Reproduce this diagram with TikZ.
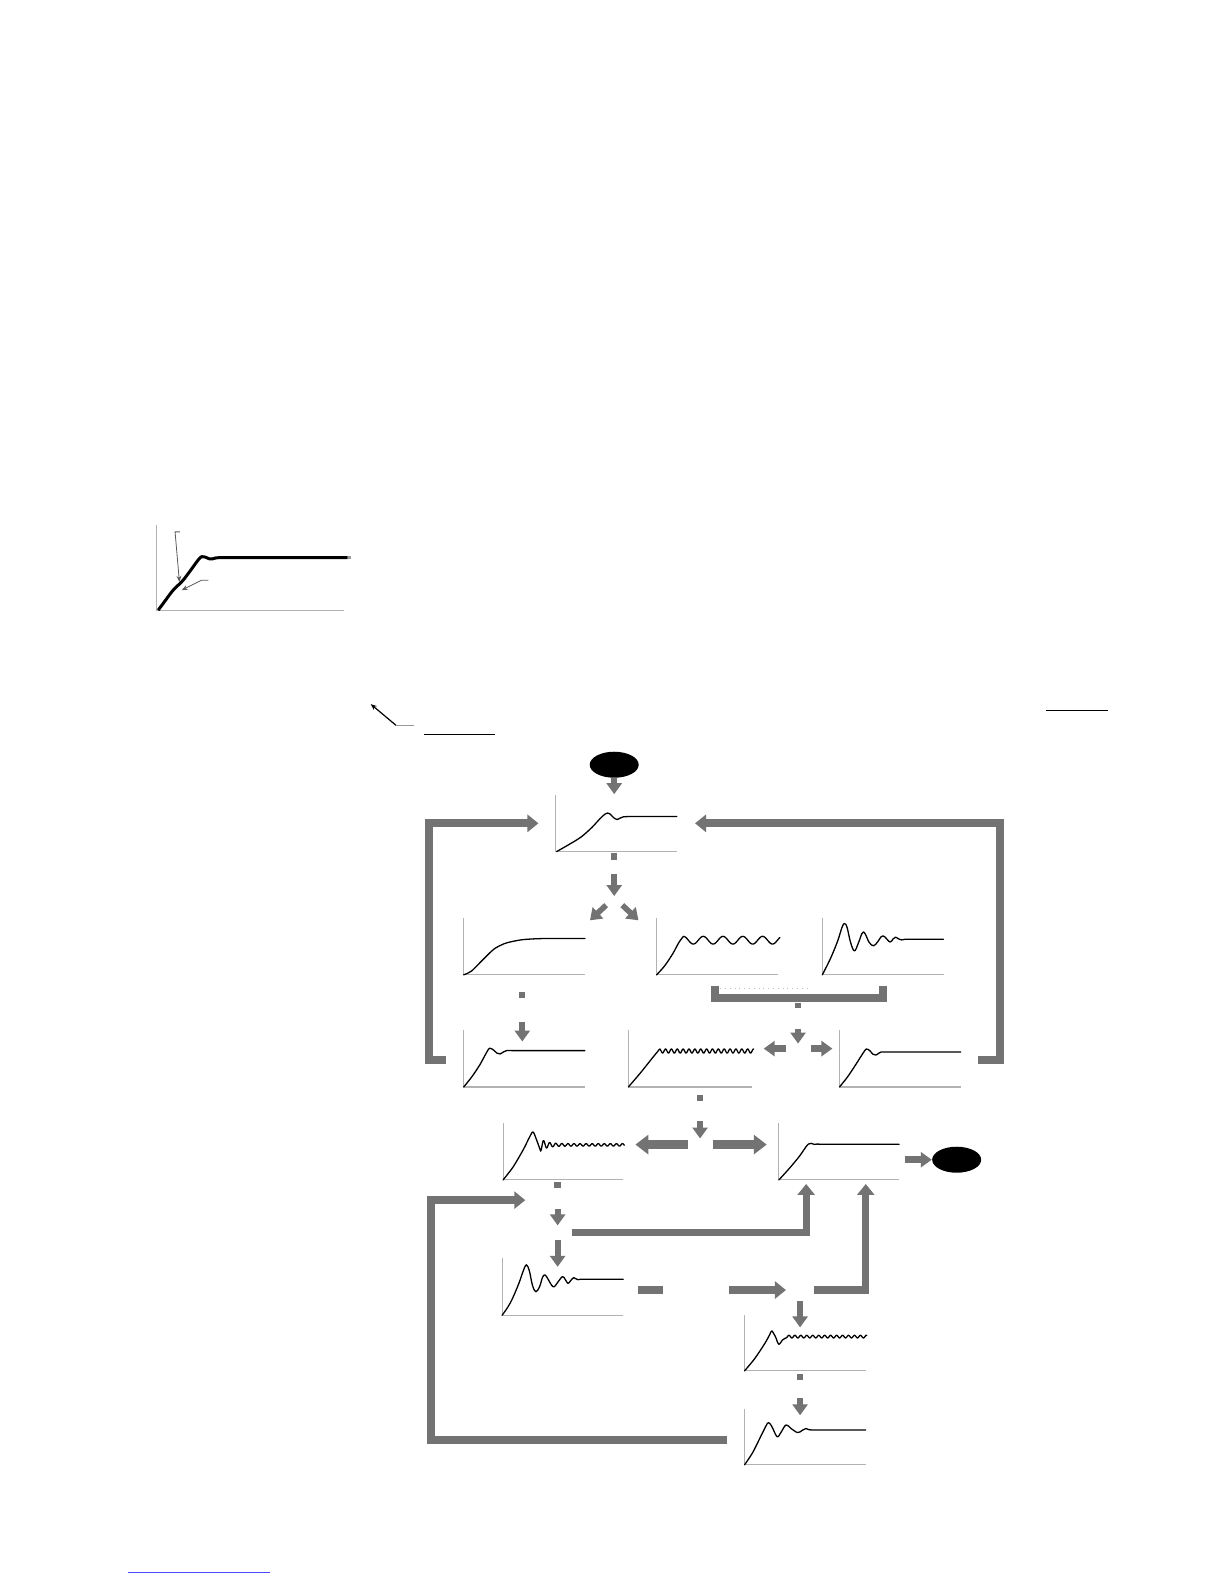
\documentclass[tikz,border=0pt]{standalone}
\usetikzlibrary{arrows.meta,shapes.geometric}
\begin{document}
\begin{tikzpicture}[x=0.505pt,y=-0.505pt,
  ax/.style={draw=black!30, line width=0.55pt},
  crv/.style={line width=0.65pt, line join=round, line cap=round},
  bar/.style={draw=black!55, line width=4pt, line join=miter},
  bartip/.style={-{Triangle[width=8.5pt,length=5.5pt]}},
  darr/.style={draw=black!55, line width=3pt, -{Triangle[width=7.5pt,length=5.5pt]}},
  barr/.style={draw=black!55, line width=4.3pt, -{Triangle[width=9.5pt,length=6.5pt]}},
  sq/.style={fill=black!55, minimum size=3.2pt, inner sep=0pt},
  term/.style={ellipse, fill=black, minimum width=24.5pt, minimum height=13pt, inner sep=0pt},
  plotbox/.style={minimum width=60.6pt, minimum height=28.3pt, inner sep=0pt, anchor=south west},
  note/.style={draw=black!65, line width=0.4pt, -{Stealth[length=3pt,width=2.4pt]}}
]
\useasboundingbox (0,0) rectangle (1212,1568);

% ---------- small top-left chart ----------
\node[anchor=south west, minimum width=93.3pt, minimum height=42.4pt, inner sep=0pt] (p0) at (155,604) {};
\begin{scope}[shift={(p0.south west)}, yscale=-1]
  \draw[ax] (0,84) -- (0,0) -- (186,0);
  \draw[line width=1.5pt, line join=round] plot[smooth] coordinates {(1.6,0) (9,10) (16.4,19.8) (26.3,29.7) (36.2,42.9) (41,49.5) (44.6,53) (48,52.6) (52,50.9) (55,50.7) (59,51.8) (64,52)} -- (189,52);
  \draw[black!40, line width=1.5pt] (189,52) -- (192,52);
\end{scope}
\coordinate (n1a) at (178,526.5);
\coordinate (n1b) at (173.3,526.5);
\coordinate (n1c) at (177.6,576);
\draw[note] (n1a) -- (n1b) -- (n1c);
\coordinate (n2a) at (206.3,574.3);
\coordinate (n2b) at (199.7,574.3);
\coordinate (n2c) at (179.9,584.2);
\draw[note] (n2a) -- (n2b) -- (n2c);

% ---------- reference marks ----------
\coordinate (m1) at (410,718);
\coordinate (m2) at (392,718);
\coordinate (m3) at (367,697);
\draw[black!40, line width=0.6pt] (m1) -- (m2);
\draw[note, draw=black, line width=0.6pt] (m2) -- (m3);
\coordinate (u1a) at (420,727); \coordinate (u1b) at (490,727);
\draw[line width=0.5pt] (u1a) -- (u1b);
\coordinate (u2a) at (1035,703); \coordinate (u2b) at (1097,703);
\draw[line width=0.5pt] (u2a) -- (u2b);
\coordinate (f1) at (127,1557); \coordinate (f2) at (267,1557);
\draw[blue!70, line width=0.5pt] (f1) -- (f2);

% ---------- terminals ----------
\node[term] (start) at (608,757) {};
\node[term] (stop) at (947,1148) {};

% ---------- plots ----------
% P1
\node[plotbox] (p1) at (550,843) {};
\begin{scope}[shift={(p1.south west)}, yscale=-1]
  \draw[ax] (0,56) -- (0,0) -- (120,0);
  \draw[crv] plot[smooth] coordinates {(1,0) (12,6.3) (25,14.3) (36,24) (44,32.7) (49,37.2) (51.5,38.2) (54,37.2) (57.5,33.5) (61,31.8) (64,33.2) (67,34.4) (72,34.7)} -- (120,34.7);
\end{scope}
% P2a
\node[plotbox] (p2a) at (459,965) {};
\begin{scope}[shift={(p2a.south west)}, yscale=-1]
  \draw[ax] (0,56) -- (0,0) -- (120,0);
  \draw[crv] plot[smooth] coordinates {(0,0) (8,4) (19,15) (30,25.5) (40,30.8) (48,33) (58,34.8) (69,35.6) (80,36)} -- (120,36);
\end{scope}
% P2b
\node[plotbox] (p2b) at (650,965) {};
\begin{scope}[shift={(p2b.south west)}, yscale=-1]
  \draw[ax] (0,56) -- (0,0) -- (120,0);
  \draw[crv] plot[smooth] coordinates {(0,0) (8,9) (16,21) (22,32) (26.5,38.1)}
     -- plot[domain=26.5:122, samples=160] (\x, {34.3+3.8*cos(18.367*(\x-26.5))});
\end{scope}
% P2c
\node[plotbox] (p2c) at (814,965) {};
\begin{scope}[shift={(p2c.south west)}, yscale=-1]
  \draw[ax] (0,56) -- (0,0) -- (120,0);
  \draw[crv] plot[smooth, tension=0.6] coordinates {(0,0) (8,16) (15,33) (19.5,47) (21.9,50.8) (24.5,47) (28,32) (31.8,23.7) (35.5,31) (39,40.5) (40.6,42.4) (42.5,40.5) (46.5,32) (50.8,28.8) (55,33) (58,37.5) (60,38.6) (62,37.5) (67,32.5) (70,35.5) (72.4,37.3) (75.5,35.6) (78.4,34.6) (82,35.3)} -- (120,35.3);
\end{scope}
% P3a
\node[plotbox] (p3a) at (459,1076) {};
\begin{scope}[shift={(p3a.south west)}, yscale=-1]
  \draw[ax] (0,56) -- (0,0) -- (120,0);
  \draw[crv] plot[smooth] coordinates {(0,0) (8,10) (16,22) (22,33) (25.4,38.3) (29,37) (33,33.5) (36,32.7) (39,34.5) (42.4,36) (48,36)} -- (120,36);
\end{scope}
% P3b
\node[plotbox] (p3b) at (622,1076) {};
\begin{scope}[shift={(p3b.south west)}, yscale=-1]
  \draw[ax] (0,56) -- (0,0) -- (122,0);
  \draw[crv] plot[smooth] coordinates {(0,0) (12,14) (24,29) (31,37.6)}
     -- plot[domain=31:124, samples=300] (\x, {35.6+2*cos(62*(\x-31))});
\end{scope}
% P3c
\node[plotbox] (p3c) at (831,1076) {};
\begin{scope}[shift={(p3c.south west)}, yscale=-1]
  \draw[ax] (0,56) -- (0,0) -- (120,0);
  \draw[crv] plot[smooth] coordinates {(0,0) (8,10) (16,22) (23,33) (26.5,37.6) (30,36) (33,32.5) (36,31.6) (39,33.5) (41,34.6) (48,34.6)} -- (120,34.6);
\end{scope}
% P4a
\node[plotbox] (p4a) at (498,1168) {};
\begin{scope}[shift={(p4a.south west)}, yscale=-1]
  \draw[ax] (0,56) -- (0,0) -- (119,0);
  \draw[crv] plot[smooth] coordinates {(0,0) (10,13) (20,30) (26,42) (29.6,47.5) (33,40) (37.2,28.5)}
     -- plot[domain=37.2:120, samples=240] (\x, {34.7-(1.2+5*exp(-(\x-37.2)/6))*cos(60*(\x-37.2))});
\end{scope}
% P4b
\node[plotbox] (p4b) at (771,1168) {};
\begin{scope}[shift={(p4b.south west)}, yscale=-1]
  \draw[ax] (0,56) -- (0,0) -- (119,0);
  \draw[crv] plot[smooth] coordinates {(0,0) (10,11) (20,23) (27,33) (29.5,35.6) (32,36.2) (35,35.2) (38,35.5) (42,35.3)} -- (119,35.3);
\end{scope}
% P5a
\node[plotbox] (p5a) at (497,1302) {};
\begin{scope}[shift={(p5a.south west)}, yscale=-1]
  \draw[ax] (0,57) -- (0,0) -- (120,0);
  \draw[crv] plot[smooth, tension=0.6] coordinates {(0,0) (8,12) (16,30) (21,44) (24,50) (27,44) (30,30) (33.3,23.3) (37,28) (40,37.5) (42.2,40) (44.5,37.5) (50.5,28.3) (55,32.5) (59.7,38.3) (62.5,35.5) (65.3,31.5) (68,34.5) (70.9,37.3) (73,36.2) (75,35.3) (78,35.7)} -- (120,35.7);
\end{scope}
% P6
\node[plotbox] (p6) at (737,1357) {};
\begin{scope}[shift={(p6.south west)}, yscale=-1]
  \draw[ax] (0,55) -- (0,0) -- (120,0);
  \draw[crv] plot[smooth] coordinates {(0,0) (10,12) (20,27) (25,36) (27,39.5) (30.5,34) (33.9,26.3) (37.5,30.5) (41,32.6)}
     -- plot[domain=41:121, samples=200] (\x, {33.9-1.3*cos(61.02*(\x-41))});
\end{scope}
% P7
\node[plotbox] (p7) at (737,1450) {};
\begin{scope}[shift={(p7.south west)}, yscale=-1]
  \draw[ax] (0,55) -- (0,0) -- (120,0);
  \draw[crv] plot[smooth, tension=0.6] coordinates {(0,0) (8,12) (16,28) (21,38) (23.7,41.8) (27,38) (32.2,27.9) (36,32) (41.1,39.5) (46,36) (52.6,31.9) (57,34) (60.9,35.9) (64,34.7) (68,34.5)} -- (120,34.5);
\end{scope}

% ---------- small squares ----------
\node[sq] (s1) at (608,848) {};
\node[sq] (s2) at (517,985) {};
\node[sq, minimum height=2.6pt] (s3) at (790,995) {};
\node[sq] (s4) at (693,1087) {};
\node[sq] (s5) at (552,1173) {};
\node[sq] (s6) at (792,1363) {};

% ---------- arrows ----------
\draw[darr] (start.south) -- (p1.north -| start.south);
% feedback brackets to P1
\coordinate (lb0) at (441,1049); \coordinate (lb1) at (425,1049);
\coordinate (lb2) at (425,815);  \coordinate (lb3) at (533,815);
\draw[bar, bartip] (lb0) -- (lb1) -- (lb2) -- (lb3);
\coordinate (rb0) at (968,1049); \coordinate (rb1) at (990,1049);
\coordinate (rb2) at (990,815);  \coordinate (rb3) at (688,815);
\draw[bar, bartip] (rb0) -- (rb1) -- (rb2) -- (rb3);
% from P1 down
\coordinate (d1a) at (608,865); \coordinate (d1b) at (608,887);
\draw[darr] (d1a) -- (d1b);
\coordinate (g1a) at (600,896); \coordinate (g1b) at (584,911);
\draw[darr, line width=2.8pt] (g1a) -- (g1b);
\coordinate (g2a) at (616,896); \coordinate (g2b) at (632,911);
\draw[darr, line width=2.8pt] (g2a) -- (g2b);
% P2a -> P3a
\coordinate (d2a) at (517,1012); \coordinate (d2b) at (517,1031);
\draw[darr] (d2a) -- (d2b);
% U bracket under P2b, P2c
\coordinate (ub0) at (708,976); \coordinate (ub1) at (708,988);
\coordinate (ub2) at (874,988); \coordinate (ub3) at (874,976);
\draw[bar, line width=3.8pt] (ub0) -- (ub1) -- (ub2) -- (ub3);
\coordinate (dt1) at (713,978); \coordinate (dt2) at (800,978);
\draw[black!25, line width=0.4pt, dotted] (dt1) -- (dt2);
\coordinate (d3a) at (790,1019); \coordinate (d3b) at (790,1033);
\draw[darr] (d3a) -- (d3b);
\coordinate (h1a) at (778,1038); \coordinate (h1b) at (756,1038);
\draw[darr, line width=3.4pt] (h1a) -- (h1b);
\coordinate (h2a) at (803,1038); \coordinate (h2b) at (824,1038);
\draw[darr, line width=3.4pt] (h2a) -- (h2b);
% P3b down
\coordinate (d4a) at (693,1110); \coordinate (d4b) at (693,1127);
\draw[darr] (d4a) -- (d4b);
\coordinate (h3a) at (681,1133); \coordinate (h3b) at (629,1133);
\draw[barr] (h3a) -- (h3b);
\coordinate (h4a) at (706,1133); \coordinate (h4b) at (759,1133);
\draw[barr] (h4a) -- (h4b);
% P4b -> stop
\coordinate (e1) at (896,1148);
\draw[darr, line width=3.4pt] (e1) -- (stop.west);
% bottom-left bracket
\coordinate (bb0) at (720,1425); \coordinate (bb1) at (427,1425);
\coordinate (bb2) at (427,1188); \coordinate (bb3) at (520,1188);
\draw[bar, bartip] (bb0) -- (bb1) -- (bb2) -- (bb3);
% P4a down
\coordinate (d5a) at (552,1197); \coordinate (d5b) at (552,1213);
\draw[darr] (d5a) -- (d5b);
\coordinate (mb0) at (566,1220); \coordinate (mb1) at (798,1220); \coordinate (mb2) at (798,1172);
\draw[bar, line width=3.6pt, bartip] (mb0) -- (mb1) -- (mb2);
\coordinate (d6a) at (552,1227); \coordinate (d6b) at (552,1254);
\draw[darr] (d6a) -- (d6b);
% row 5
\coordinate (sb0) at (632,1277); \coordinate (sb1) at (656,1277);
\draw[bar, line width=3.6pt] (sb0) -- (sb1);
\coordinate (h5a) at (722,1277); \coordinate (h5b) at (778,1277);
\draw[bar, line width=3.6pt, bartip] (h5a) -- (h5b);
\coordinate (rv0) at (806,1277); \coordinate (rv1) at (857,1277); \coordinate (rv2) at (857,1172);
\draw[bar, line width=3.6pt, bartip] (rv0) -- (rv1) -- (rv2);
\coordinate (d7a) at (792,1288); \coordinate (d7b) at (792,1314);
\draw[darr] (d7a) -- (d7b);
\coordinate (d8a) at (792,1384); \coordinate (d8b) at (792,1401);
\draw[darr] (d8a) -- (d8b);
\end{tikzpicture}
\end{document}
